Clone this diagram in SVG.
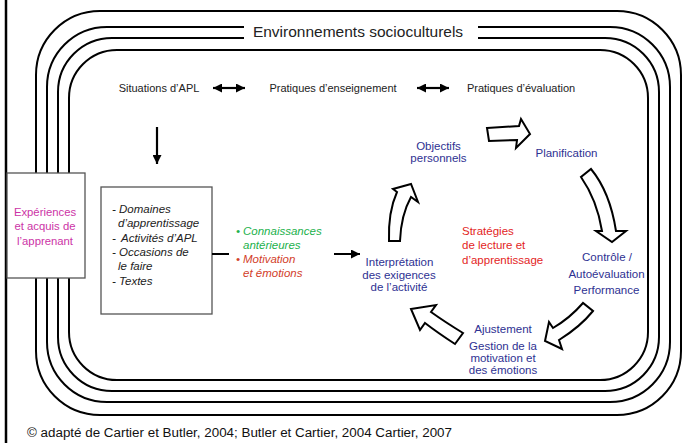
<svg xmlns="http://www.w3.org/2000/svg" width="696" height="443" viewBox="0 0 696 443">
<style>
.t{font-family:"Liberation Sans",Arial,sans-serif;font-size:11px;fill:#222}
.b{font-family:"Liberation Sans",Arial,sans-serif;font-size:11.5px;fill:#2e3192;text-anchor:middle}
.i{font-family:"Liberation Sans",Arial,sans-serif;font-size:11.5px;font-style:italic;fill:#222}
.track{fill:none;stroke:#000;stroke-width:2}
.box{fill:#fff;stroke:#555;stroke-width:1.3}
.blk{fill:#fff;stroke:#000;stroke-width:2;stroke-linejoin:miter}
.ln{fill:none;stroke:#000;stroke-width:2.2}
</style>
<defs>
<marker id="ah" markerUnits="userSpaceOnUse" markerWidth="10" markerHeight="9" refX="9" refY="4.5" orient="auto-start-reverse">
<path d="M0,0 L9,4.5 L0,9 z" fill="#000"/>
</marker>
</defs>
<rect width="696" height="443" fill="#fff"/>
<line x1="6" y1="0" x2="6" y2="443" stroke="#000" stroke-width="2.5"/>
<g id="environnements">
<rect class="track" x="69" y="50" width="579" height="330" rx="48"/>
<rect class="track" x="58" y="38" width="601" height="353" rx="54"/>
<rect class="track" x="47" y="27" width="623" height="375" rx="60"/>
<rect class="track" x="36" y="11" width="645" height="404" rx="64"/>
<rect x="244" y="21" width="234" height="22" fill="#fff"/>
<text x="358" y="37" font-family="Liberation Sans,Arial,sans-serif" font-size="15.5" fill="#222" text-anchor="middle">Environnements socioculturels</text>
</g>
<g id="experiences">
<rect class="box" x="7" y="173" width="78" height="105"/>
<text font-family="Liberation Sans,Arial,sans-serif" font-size="11.3" fill="#cc33a6" text-anchor="middle"><tspan x="45" y="216">Expériences</tspan><tspan x="45" y="230">et acquis de</tspan><tspan x="45" y="245">l’apprenant</tspan></text>
</g>
<g id="situations"><text class="t" x="159" y="92" text-anchor="middle">Situations d’APL</text></g>
<g id="enseignement"><text class="t" x="333" y="92" text-anchor="middle">Pratiques d’enseignement</text></g>
<g id="evaluation"><text class="t" x="521" y="92" text-anchor="middle">Pratiques d’évaluation</text></g>
<g id="contenus">
<rect class="box" x="101" y="187" width="111" height="127"/>
<text class="i"><tspan x="112" y="213">- Domaines</tspan><tspan x="118" y="227">d’apprentissage</tspan><tspan x="112" y="242">-</tspan><tspan x="121" y="242">Activités d’APL</tspan><tspan x="112" y="256">- Occasions de</tspan><tspan x="118" y="270">le faire</tspan><tspan x="112" y="285">- Textes</tspan></text>
</g>
<g id="facteurs">
<text class="i" fill="#22b14c" style="fill:#22b14c"><tspan x="236" y="235">•</tspan><tspan x="243" y="235">Connaissances</tspan><tspan x="243" y="249">antérieures</tspan></text>
<text class="i" style="fill:#d2402a"><tspan x="236" y="263">•</tspan><tspan x="243" y="263">Motivation</tspan><tspan x="243" y="277">et émotions</tspan></text>
</g>
<g id="strategies">
<text font-family="Liberation Sans,Arial,sans-serif" font-size="11.5" fill="#e31e24"><tspan x="462" y="235">Stratégies</tspan><tspan x="462" y="249">de lecture et</tspan><tspan x="462" y="263.5">d’apprentissage</tspan></text>
</g>
<g id="objectifs"><text class="b"><tspan x="438.5" y="150">Objectifs</tspan><tspan x="438.5" y="162">personnels</tspan></text></g>
<g id="planification"><text class="b" x="566.5" y="157">Planification</text></g>
<g id="controle"><text class="b"><tspan x="607" y="261">Contrôle /</tspan><tspan x="606.5" y="278">Autoévaluation</tspan><tspan x="606.5" y="294">Performance</tspan></text></g>
<g id="ajustement"><text class="b"><tspan x="503" y="333">Ajustement</tspan><tspan x="503" y="350">Gestion de la</tspan><tspan x="503" y="362">motivation et</tspan><tspan x="503" y="374">des émotions</tspan></text></g>
<g id="interpretation"><text class="b"><tspan x="399.5" y="266">Interprétation</tspan><tspan x="399" y="278.5">des exigences</tspan><tspan x="399" y="291">de l’activité</tspan></text></g>
<g id="connecteurs">
<line class="ln" x1="213" y1="88" x2="245" y2="88" marker-start="url(#ah)" marker-end="url(#ah)"/>
<line class="ln" x1="417" y1="88" x2="449" y2="88" marker-start="url(#ah)" marker-end="url(#ah)"/>
<line class="ln" x1="157" y1="127" x2="157" y2="164" marker-end="url(#ah)"/>
<path class="ln" d="M212,254 H229 M334,254 H360" marker-end="url(#ah)"/>
<path class="blk" d="M487,128 L519,126 L521,119 L530,134 L516,148 L517,140 L489,141 Z"/>
<path class="blk" d="M581,177 Q597,200 602,231 L596,231 L612,242 L626,231 L616,231 Q610,192 591,169 Z"/>
<path class="blk" d="M583,303 Q570,318 553,328 L549,322 L545,341 L562,349 L559,340 Q580,327 593,311 Z"/>
<path class="blk" d="M411,309 L436,305 L431,312 Q445,322 463,333 L455,344 Q438,333 425,323 L420,330 Z"/>
<path class="blk" d="M389,241 Q388,212 397,192 L393,189 L411,184 L418,202 L411,197 Q401,215 400,241 Z"/>
</g>
<text x="27" y="437" font-family="Liberation Sans,Arial,sans-serif" font-size="12" fill="#111" textLength="425" lengthAdjust="spacingAndGlyphs">© adapté de Cartier et Butler, 2004; Butler et Cartier, 2004 Cartier, 2007</text>
</svg>
